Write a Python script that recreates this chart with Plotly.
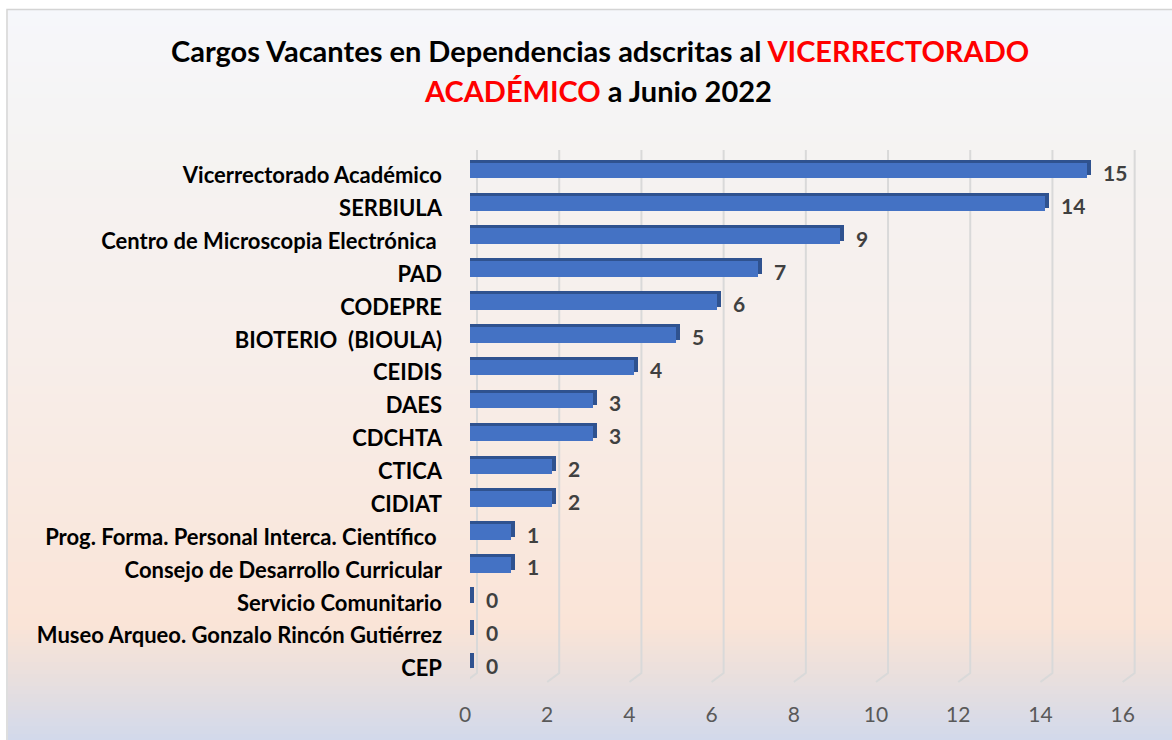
import plotly.graph_objects as go

# ---------------- data ----------------
categories = [
    "Vicerrectorado Académico",
    "SERBIULA",
    "Centro de Microscopia Electrónica ",
    "PAD",
    "CODEPRE",
    "BIOTERIO  (BIOULA)",
    "CEIDIS",
    "DAES",
    "CDCHTA",
    "CTICA",
    "CIDIAT",
    "Prog. Forma. Personal Interca. Científico ",
    "Consejo de Desarrollo Curricular",
    "Servicio Comunitario",
    "Museo Arqueo. Gonzalo Rincón Gutiérrez",
    "CEP",
]
values = [15, 14, 9, 7, 6, 5, 4, 3, 3, 2, 2, 1, 1, 0, 0, 0]
tick_values = [0, 2, 4, 6, 8, 10, 12, 14, 16]
title_line1 = "Cargos Vacantes en Dependencias adscritas al "
title_red1 = "VICERRECTORADO"
title_red2 = "ACADÉMICO"
title_line2 = " a Junio 2022"

# ---------------- geometry helpers (pixels -> paper) ----------------
W, H = 1172, 740
ML, MR, MT, MB = 470, 32, 154, 60
PW = W - ML - MR
PH = H - MT - MB
XMAX = 16.3
PX_PER_UNIT = PW / XMAX


def px_x(px):
    return (px - ML) / PW


def px_y(py):
    return (H - MB - py) / PH


FONT = "Lato"
BAR = "#4472c4"
BAR_DARK = "#2f528f"

fig = go.Figure()

# 3D-ish depth face (drawn behind the front face)
depth_units = 4 / PX_PER_UNIT
fig.add_trace(go.Bar(
    x=[v + depth_units for v in values], y=categories, orientation="h",
    width=0.47, offset=-0.235 + 3 / (PH / 16),
    marker=dict(color=BAR_DARK, line=dict(width=0)),
    hoverinfo="skip", showlegend=False,
))
# front face
fig.add_trace(go.Bar(
    x=values, y=categories, orientation="h",
    width=0.47, offset=-0.235,
    marker=dict(color=BAR, line=dict(width=0)),
    showlegend=False,
))

shapes = []
# background gradient bands
stops = [
    (10, (246, 247, 251)),
    (150, (245, 243, 242)),
    (350, (247, 238, 234)),
    (500, (249, 233, 224)),
    (625, (250, 228, 215)),
    (680, (232, 223, 222)),
    (740, (210, 217, 235)),
]


def color_at(py):
    for (y0, c0), (y1, c1) in zip(stops[:-1], stops[1:]):
        if y0 <= py <= y1:
            t = (py - y0) / (y1 - y0)
            return "rgb(%d,%d,%d)" % tuple(round(a + (b - a) * t) for a, b in zip(c0, c1))
    return "rgb(%d,%d,%d)" % stops[-1][1]


step = 4
py = 10
while py < 740:
    shapes.append(dict(
        type="rect", xref="paper", yref="paper", layer="below",
        x0=px_x(8), x1=px_x(1173), y0=px_y(min(py + step + 1, 741)), y1=px_y(py),
        fillcolor=color_at(py + step / 2), line=dict(width=0),
    ))
    py += step
# outer border
shapes.append(dict(
    type="rect", xref="paper", yref="paper", layer="below",
    x0=px_x(7), x1=px_x(1180), y0=px_y(750), y1=px_y(9.5),
    fillcolor="rgba(0,0,0,0)", line=dict(color="#d4d4d4", width=1.5),
))
# 3D gridlines (back wall + floor edge)
back_off = 7 / PX_PER_UNIT
front_off = -5 / PX_PER_UNIT
for t in tick_values:
    shapes.append(dict(
        type="path", xref="x", yref="paper", layer="below",
        path="M %f,%f L %f,%f L %f,%f" % (
            t + back_off, px_y(150), t + back_off, px_y(673), t + front_off, px_y(682)),
        line=dict(color="#d9d9d9", width=2),
    ))

annotations = []
for c, v in zip(categories, values):
    annotations.append(dict(
        x=v, y=c, xref="x", yref="y", text="<b>%d</b>" % v, showarrow=False,
        xanchor="left", yanchor="middle", xshift=14, yshift=-2,
        font=dict(family=FONT, size=21, color="#404040"),
    ))
annotations.append(dict(
    x=px_x(600), y=px_y(50), xref="paper", yref="paper", showarrow=False,
    xanchor="center", yanchor="middle",
    text="<b>%s<span style='color:#ff0000'>%s</span></b>" % (title_line1, title_red1),
    font=dict(family=FONT, size=29, color="#000000"),
))
annotations.append(dict(
    x=px_x(598), y=px_y(91), xref="paper", yref="paper", showarrow=False,
    xanchor="center", yanchor="middle",
    text="<b><span style='color:#ff0000'>%s</span>%s</b>" % (title_red2, title_line2),
    font=dict(family=FONT, size=29, color="#000000"),
))

fig.update_layout(
    width=W, height=H,
    margin=dict(l=ML, r=MR, t=MT, b=MB, pad=0),
    paper_bgcolor="#ffffff",
    plot_bgcolor="rgba(0,0,0,0)",
    barmode="overlay",
    bargap=0,
    shapes=shapes,
    annotations=annotations,
    showlegend=False,
    xaxis=dict(
        range=[0, XMAX], tickmode="array", tickvals=tick_values,
        showgrid=False, zeroline=False, showline=False, ticks="",
        ticklabelshift=-5, ticklabelstandoff=20,
        tickfont=dict(family=FONT, size=21, color="#595959"),
        fixedrange=True,
    ),
    yaxis=dict(
        categoryorder="array", categoryarray=categories[::-1],
        range=[-0.5, len(categories) - 0.5],
        showgrid=False, zeroline=False, showline=False, ticks="",
        ticklabelstandoff=27, ticklabelshift=5,
        tickfont=dict(family=FONT, size=22, color="#000000", weight="bold"),
        fixedrange=True,
    ),
)

fig.write_html(
    "out.html",
    config={"displayModeBar": False},
    post_script="document.body.style.margin='0';document.body.style.overflow='hidden';",
)
